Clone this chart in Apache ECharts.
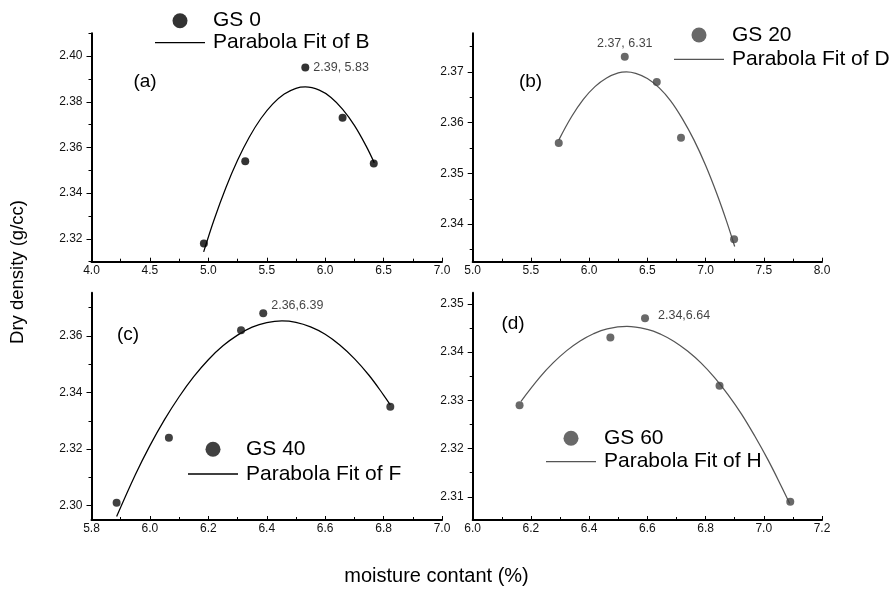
<!DOCTYPE html>
<html><head><meta charset="utf-8">
<script src="https://cdn.jsdelivr.net/npm/echarts@6/dist/echarts.min.js"></script>
<style>html,body{margin:0;padding:0;background:#fff}#c{width:895px;height:589px}</style>
</head><body><div id="c"></div>
<script>
// ---------- data ----------
// Panel (a) GS 0
const aX = [4.962, 5.316, 5.830, 6.149, 6.416];
const aY = [2.318, 2.354, 2.395, 2.373, 2.353];
const aFitX = [4.96, 5.05, 5.15, 5.25, 5.35, 5.45, 5.55, 5.65, 5.75, 5.83, 5.95, 6.05, 6.15, 6.25, 6.35, 6.42];
const aFitY = [2.3143, 2.3285, 2.3424, 2.3544, 2.3645, 2.3727, 2.3790, 2.3834, 2.3859, 2.3865, 2.3851, 2.3819, 2.3767, 2.3697, 2.3607, 2.3533];
const aNote = '2.39, 5.83', aNoteIdx = 2;
const aXTicks = [4.0, 4.5, 5.0, 5.5, 6.0, 6.5, 7.0];
const aXMinor = [4.25, 4.75, 5.25, 5.75, 6.25, 6.75];
const aYTicks = [2.32, 2.34, 2.36, 2.38, 2.40];
const aYMinor = [2.31, 2.33, 2.35, 2.37, 2.39, 2.41];
const aXRange = [4.0, 7.0], aYRange = [2.31, 2.41];

// Panel (b) GS 20
const bX = [5.739, 6.306, 6.581, 6.789, 7.245];
const bY = [2.356, 2.373, 2.368, 2.357, 2.337];
const bFitX = [5.74, 5.85, 5.95, 6.05, 6.15, 6.25, 6.32, 6.40, 6.50, 6.60, 6.70, 6.80, 6.90, 7.00, 7.10, 7.18, 7.25];
const bFitY = [2.3566, 2.3612, 2.3646, 2.3671, 2.3688, 2.3698, 2.3700, 2.3697, 2.3687, 2.3669, 2.3643, 2.3608, 2.3566, 2.3516, 2.3458, 2.3406, 2.3356];
const bNote = '2.37, 6.31', bNoteIdx = 1;
const bXTicks = [5.0, 5.5, 6.0, 6.5, 7.0, 7.5, 8.0];
const bXMinor = [5.25, 5.75, 6.25, 6.75, 7.25, 7.75];
const bYTicks = [2.34, 2.35, 2.36, 2.37];
const bYMinor = [2.335, 2.345, 2.355, 2.365, 2.375];
const bXRange = [5.0, 8.0], bYRange = [2.3326, 2.3776];

// Panel (c) GS 40
const cX = [5.886, 6.065, 6.312, 6.388, 6.823];
const cY = [2.301, 2.324, 2.362, 2.368, 2.335];
const cFitX = [5.886, 5.95, 6.0, 6.05, 6.1, 6.15, 6.2, 6.25, 6.3, 6.35, 6.4, 6.452, 6.5, 6.55, 6.6, 6.65, 6.7, 6.75, 6.8, 6.823];
const cFitY = [2.2961, 2.3109, 2.3212, 2.3304, 2.3385, 2.3456, 2.3516, 2.3565, 2.3603, 2.3631, 2.3647, 2.3653, 2.3648, 2.3632, 2.3606, 2.3568, 2.3520, 2.3461, 2.3391, 2.3356];
const cNote = '2.36,6.39', cNoteIdx = 3;
const cXTicks = [5.8, 6.0, 6.2, 6.4, 6.6, 6.8, 7.0];
const cXMinor = [5.9, 6.1, 6.3, 6.5, 6.7, 6.9];
const cYTicks = [2.30, 2.32, 2.34, 2.36];
const cYMinor = [2.31, 2.33, 2.35, 2.37];
const cXRange = [5.8, 7.0], cYRange = [2.2949, 2.3753];

// Panel (d) GS 60
const dX = [6.161, 6.473, 6.592, 6.848, 7.091];
const dY = [2.329, 2.343, 2.347, 2.333, 2.309];
const dFitX = [6.166, 6.231, 6.277, 6.323, 6.369, 6.415, 6.462, 6.530, 6.600, 6.646, 6.692, 6.738, 6.785, 6.831, 6.877, 6.923, 6.969, 7.015, 7.061, 7.089];
const dFitY = [2.3298, 2.3348, 2.3378, 2.3403, 2.3423, 2.3438, 2.3448, 2.3453, 2.3447, 2.3437, 2.3422, 2.3402, 2.3377, 2.3347, 2.3312, 2.3272, 2.3226, 2.3176, 2.3121, 2.3086];
const dNote = '2.34,6.64', dNoteIdx = 2;
const dXTicks = [6.0, 6.2, 6.4, 6.6, 6.8, 7.0, 7.2];
const dXMinor = [6.1, 6.3, 6.5, 6.7, 6.9, 7.1];
const dYTicks = [2.31, 2.32, 2.33, 2.34, 2.35];
const dYMinor = [2.315, 2.325, 2.335, 2.345];
const dXRange = [6.0, 7.2], dYRange = [2.3052, 2.3523];

const seriesNames = ['GS 0', 'GS 20', 'GS 40', 'GS 60'];
const fitNames = ['Parabola Fit of B', 'Parabola Fit of D', 'Parabola Fit of F', 'Parabola Fit of H'];
const panelLabels = ['(a)', '(b)', '(c)', '(d)'];
const xTitle = 'moisture contant (%)';
const yTitle = 'Dry density (g/cc)';

// ---------- build chart ----------
const FONT = '"Liberation Sans", Arial, Helvetica, sans-serif';
const LINE_ICON = 'path://M0,0 L50,0 L50,1.3 L0,1.3 Z';
const panels = [
  {x: aX, y: aY, fx: aFitX, fy: aFitY, note: aNote, ni: aNoteIdx, xt: aXTicks, xm: aXMinor, yt: aYTicks, ym: aYMinor, xr: aXRange, yr: aYRange,
   grid: {left: 91.5, top: 33.3, width: 350.5, height: 228.4}, color: '#000', lcolor: '#000',
   noteLabel: {position: 'right', distance: 4},
   legend: {left: 155, top: 9.7, itemGap: 0}, lab: [145, 81.7]},
  {x: bX, y: bY, fx: bFitX, fy: bFitY, note: bNote, ni: bNoteIdx, xt: bXTicks, xm: bXMinor, yt: bYTicks, ym: bYMinor, xr: bXRange, yr: bYRange,
   grid: {left: 472.7, top: 33.3, width: 349.3, height: 228.4}, color: '#444', lcolor: '#555',
   noteLabel: {position: 'top', distance: 3},
   legend: {left: 674, top: 24, itemGap: 2.3}, lab: [530.5, 81.7]},
  {x: cX, y: cY, fx: cFitX, fy: cFitY, note: cNote, ni: cNoteIdx, xt: cXTicks, xm: cXMinor, yt: cYTicks, ym: cYMinor, xr: cXRange, yr: cYRange,
   grid: {left: 91.5, top: 292.7, width: 350.5, height: 227.3}, color: '#111', lcolor: '#000',
   noteLabel: {position: 'right', distance: 4, offset: [0, -8]},
   legend: {left: 188, top: 438.3, itemGap: 2.7}, lab: [128, 335]},
  {x: dX, y: dY, fx: dFitX, fy: dFitY, note: dNote, ni: dNoteIdx, xt: dXTicks, xm: dXMinor, yt: dYTicks, ym: dYMinor, xr: dXRange, yr: dYRange,
   grid: {left: 472.7, top: 292.7, width: 349.3, height: 227.3}, color: '#444', lcolor: '#555',
   noteLabel: {position: 'right', distance: 9, offset: [0, -3]},
   legend: {left: 546, top: 427.3, itemGap: 1.4}, lab: [513, 323.3]}
];

function axisPair(kind, gi, range, majors, minors, digits) {
  const base = {type: 'value', gridIndex: gi, min: range[0], max: range[1], scale: true,
    splitLine: {show: false}, position: kind === 'x' ? 'bottom' : 'left'};
  const main = Object.assign({}, base, {
    axisLine: {show: true, onZero: false, lineStyle: {color: '#000', width: 2}},
    axisTick: {show: true, customValues: majors, inside: kind === 'x', length: kind === 'x' ? 4 : 5, lineStyle: {color: '#000', width: 1}},
    axisLabel: {show: true, customValues: majors, formatter: v => Number(v).toFixed(digits),
      color: '#111', fontSize: 12, fontFamily: FONT, margin: kind === 'x' ? 3 : 9}
  });
  const minor = Object.assign({}, base, {
    axisLine: {show: false, onZero: false},
    axisTick: {show: true, customValues: minors, inside: kind === 'x', length: 3, lineStyle: {color: '#000', width: 1}},
    axisLabel: {show: false}
  });
  return [main, minor];
}

const grid = [], xAxis = [], yAxis = [], series = [], legend = [], graphic = [];
panels.forEach((p, i) => {
  grid.push(Object.assign({containLabel: false, outerBoundsMode: 'none'}, p.grid));
  xAxis.push(...axisPair('x', i, p.xr, p.xt, p.xm, 1));
  yAxis.push(...axisPair('y', i, p.yr, p.yt, p.ym, 2));
  const fit = p.fx.map((v, k) => [v, p.fy[k]]);
  series.push({
    name: fitNames[i], type: 'line', xAxisIndex: 2 * i, yAxisIndex: 2 * i,
    data: fit, smooth: 0.4, symbol: 'none', silent: true, z: 2,
    lineStyle: {color: p.lcolor, width: 1.25}, itemStyle: {color: p.lcolor}
  });
  const pts = p.x.map((v, k) => {
    const item = {value: [v, p.y[k]]};
    if (k === p.ni) {
      item.label = Object.assign({show: true, formatter: p.note, color: '#111', fontSize: 12.5, fontFamily: FONT}, p.noteLabel);
    }
    return item;
  });
  series.push({
    name: seriesNames[i], type: 'scatter', xAxisIndex: 2 * i, yAxisIndex: 2 * i,
    data: pts, symbol: 'circle', symbolSize: 8, z: 3, silent: true,
    itemStyle: {color: p.color}
  });
  legend.push({
    data: [{name: seriesNames[i], icon: 'circle'}, {name: fitNames[i], icon: LINE_ICON}],
    orient: 'vertical', left: p.legend.left, top: p.legend.top,
    itemGap: p.legend.itemGap, itemWidth: 50, itemHeight: 15, padding: 0, selectedMode: false,
    symbolKeepAspect: true,
    textStyle: {fontSize: 21, lineHeight: 22, fontFamily: FONT, color: '#000', padding: [0, 0, 0, 3]}
  });
  graphic.push({type: 'text', x: p.lab[0], y: p.lab[1], silent: true,
    style: {text: panelLabels[i], fontSize: 19, fontFamily: FONT, fill: '#000', textAlign: 'center', textVerticalAlign: 'middle'}});
});
graphic.push({type: 'text', x: 436.5, y: 576, silent: true,
  style: {text: xTitle, fontSize: 20, fontFamily: FONT, fill: '#000', textAlign: 'center', textVerticalAlign: 'middle'}});
graphic.push({type: 'text', x: 18, y: 272, rotation: Math.PI / 2, silent: true,
  style: {text: yTitle, fontSize: 18.5, fontFamily: FONT, fill: '#000', textAlign: 'center', textVerticalAlign: 'middle'}});

const chart = echarts.init(document.getElementById('c'), null, {renderer: 'canvas'});
chart.setOption({
  animation: false,
  backgroundColor: '#fff',
  grid, xAxis, yAxis, series, legend, graphic
});
</script>
</body></html>
